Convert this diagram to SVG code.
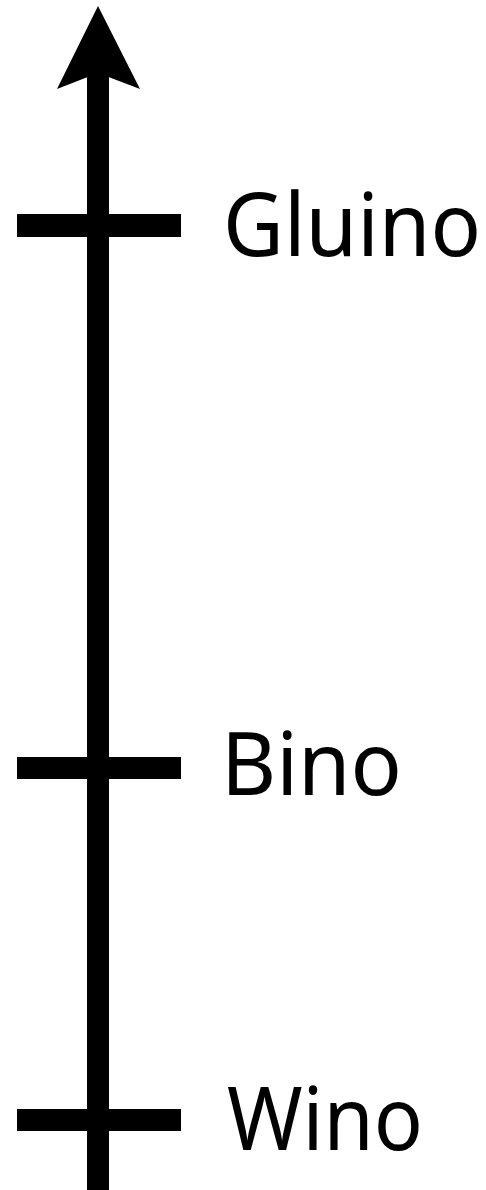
<svg xmlns="http://www.w3.org/2000/svg" width="486" height="1190" viewBox="0 0 486 1190">
<style>
.tick{fill:#000}
.lbl{font-family:"Noto Sans","DejaVu Sans",sans-serif;font-size:87px;fill:#000}
</style>
<rect width="486" height="1190" fill="#fff"/>
<g id="connectors">
<rect x="87" y="70" width="22" height="1120" fill="#000"/>
<polygon points="98,6 140,89 98,73 57,89" fill="#000"/>
</g>
<g id="gluino">
<rect class="tick" x="17" y="214" width="164" height="23"/>
<text class="lbl" x="223" y="256" textLength="258" lengthAdjust="spacingAndGlyphs">Gluino</text>
</g>
<g id="bino">
<rect class="tick" x="17" y="757" width="164" height="22"/>
<text class="lbl" x="221" y="795" textLength="181" lengthAdjust="spacingAndGlyphs">Bino</text>
</g>
<g id="wino">
<rect class="tick" x="17" y="1109" width="164" height="22"/>
<text class="lbl" x="227" y="1150" textLength="196" lengthAdjust="spacingAndGlyphs">Wino</text>
</g>
</svg>
